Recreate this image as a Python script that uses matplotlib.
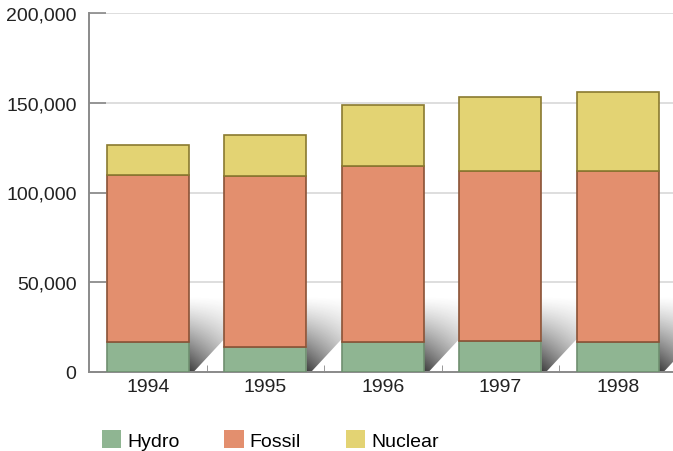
import numpy as np
import matplotlib
matplotlib.use("Agg")
import matplotlib.pyplot as plt
from matplotlib.patches import Polygon, Patch
from matplotlib.ticker import FuncFormatter, FixedLocator

plt.rcParams['font.family'] = ['Liberation Sans', 'DejaVu Sans']

years = ['1994', '1995', '1996', '1997', '1998']
hydro = [16500, 14000, 16800, 17300, 16800]
fossil = [93000, 95000, 97700, 94700, 94900]
nuclear = [16800, 22800, 34100, 41000, 44200]

series_names = ['Hydro', 'Fossil', 'Nuclear']
face_colors = ['#8fb592', '#e38f6e', '#e3d373']
edge_colors = ['#6f8f70', '#8a5236', '#8a7a30']

fig = plt.figure(figsize=(6.73, 4.52), dpi=100)
ax = fig.add_axes([89 / 673, 1 - 373 / 452, 1 - 89 / 673, (373 - 14) / 452])

x = np.arange(len(years))
width = 0.7

ax.set_xlim(-0.5, 4.47)
ax.set_ylim(0, 200000)

# soft shadows behind each bar (dark at the floor, fading upward)
grad_h = np.linspace(0, 1, 64)[:, None]
grad_w = np.linspace(1, 0.45, 64)[None, :]
alpha = ((1 - grad_h) ** 1.2) * grad_w * 0.9
rgba = np.zeros((64, 64, 4))
rgba[..., :3] = 0.15
rgba[..., 3] = alpha
for xi in x:
    right = xi + width / 2
    poly = Polygon([(right, 0), (right, 42000), (right + 0.31, 42000),
                    (right + 0.31, 19000), (right + 0.04, 0)],
                   closed=True, transform=ax.transData, facecolor='none', edgecolor='none')
    ax.add_patch(poly)
    im = ax.imshow(rgba, extent=(right, right + 0.31, 0, 42000), origin='lower',
                   aspect='auto', zorder=1.5, interpolation='bilinear')
    im.set_clip_path(poly)

bottom = np.zeros(len(years))
for vals, name, fc, ec in zip([hydro, fossil, nuclear], series_names, face_colors, edge_colors):
    ax.bar(x, vals, width, bottom=bottom, color=fc, edgecolor=ec, linewidth=1.2, zorder=3, label=name)
    bottom = bottom + np.array(vals)

ax.set_aspect('auto')
ax.yaxis.set_major_locator(FixedLocator([0, 50000, 100000, 150000, 200000]))
ax.yaxis.set_major_formatter(FuncFormatter(lambda v, p: f'{int(v):,}'))
ax.set_xticks(x)
ax.set_xticklabels(years)
ax.set_xticks(np.arange(0.5, 4.5, 1), minor=True)
ax.tick_params(axis='x', which='major', length=0, labelsize=14, pad=4, colors='#222222')
ax.tick_params(axis='x', which='minor', length=5, direction='in', color='#888888')
ax.tick_params(axis='y', length=12, direction='in', labelsize=14, pad=9, color='#888888',
               labelcolor='#222222', width=1.2)

ax.grid(axis='y', color='#d4d4d4', linewidth=1.1, zorder=0)
ax.set_axisbelow(True)
for s in ['top', 'right']:
    ax.spines[s].set_visible(False)
for s in ['left', 'bottom']:
    ax.spines[s].set_color('#8a8a8a')
    ax.spines[s].set_linewidth(1.4)

handles = [Patch(facecolor=fc, edgecolor='none') for fc in face_colors]
fig.legend(handles, series_names, loc='center left', bbox_to_anchor=(102 / 673, 1 - 441 / 452),
           ncol=3, frameon=False, fontsize=14, handlelength=1.0, handleheight=1.0,
           handletextpad=0.3, columnspacing=2.3, borderpad=0, borderaxespad=0)

fig.savefig('out.png', dpi=100)
